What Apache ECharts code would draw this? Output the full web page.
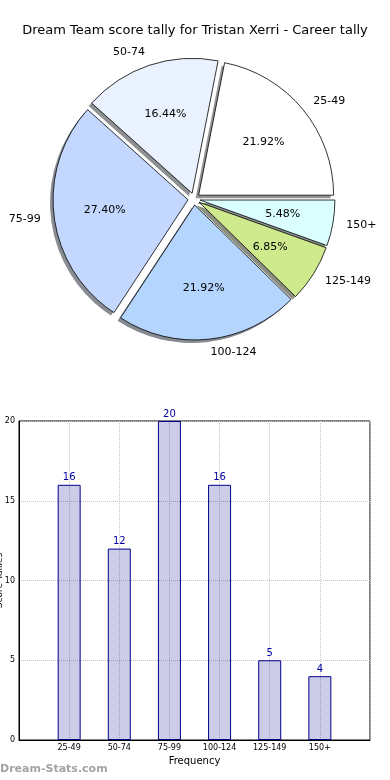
<!DOCTYPE html>
<html>
<head>
<meta charset="utf-8">
<script src="https://cdn.jsdelivr.net/npm/echarts@6/dist/echarts.min.js"></script>
<style>
html,body{margin:0;padding:0;background:#fff;}
#chart{width:390px;height:780px;}
</style>
</head>
<body>
<div id="chart"></div>
<script>
const titleText = 'Dream Team score tally for Tristan Xerri - Career tally';
const categories = ['25-49', '50-74', '75-99', '100-124', '125-149', '150+'];
const tallies = [16, 12, 20, 16, 5, 4];
const sliceColors = ['#ffffff', '#ebf2ff', '#c4d8ff', '#b4d5fe', '#cfea8c', '#dbffff'];
const yTicks = [0, 5, 10, 15, 20];
const xAxisName = 'Frequency';
const yAxisName = 'Score Tallies';
const watermark = 'Dream-Stats.com';

const total = tallies.reduce((a, b) => a + b, 0);
const R = 135;
const offset = 6;
const font = 'DejaVu Sans';
const CX = 194, CY = 199;

// shadow tint: darkened face colour blended half over white
function shadowOf(hex) {
  const n = parseInt(hex.slice(1), 16);
  const r = (n >> 16) & 255, g = (n >> 8) & 255, b = n & 255;
  const f = c => Math.round(c * 0.3 * 0.5 + 255 * 0.5 - 20);
  return 'rgb(' + f(r) + ',' + f(g) + ',' + f(b) + ')';
}

const pieData = categories.map((c, i) => ({
  name: c, value: tallies[i], selected: true,
  itemStyle: { color: sliceColors[i] }
}));
const shadowData = categories.map((c, i) => ({
  name: c, value: tallies[i], selected: true,
  itemStyle: { color: shadowOf(sliceColors[i]) }
}));
const labelData = categories.map((c, i) => ({
  name: c, value: tallies[i], selected: true
}));
const barData = tallies.map((v, i) => [i, v]);

const chart = echarts.init(document.getElementById('chart'), null, { renderer: 'canvas' });
chart.setOption({
  animation: false,
  textStyle: { fontFamily: font },
  title: [
    { text: titleText, left: 'center', top: 24, padding: 0,
      textStyle: { fontSize: 13, fontWeight: 'normal', color: '#000', fontFamily: font } },
    { text: watermark, left: 0, top: 764, padding: 0,
      textStyle: { fontSize: 11, fontWeight: 'bold', color: '#a3a3a3', fontFamily: font } }
  ],
  grid: { left: 19, right: 20, top: 421, bottom: 40, show: true, borderColor: '#000', borderWidth: 1,
    backgroundColor: 'transparent', containLabel: false, outerBoundsMode: 'none' },
  xAxis: {
    type: 'value', min: -1, max: categories.length, interval: 1,
    name: xAxisName, nameLocation: 'middle', nameGap: 16, nameMoveOverlap: false,
    nameTextStyle: { fontSize: 10, color: '#000', fontFamily: font },
    axisLine: { show: true, onZero: false, lineStyle: { color: '#000' } },
    axisTick: { show: false },
    axisLabel: { fontSize: 8, color: '#000', margin: 4, fontFamily: font,
      formatter: v => (categories[v] !== undefined ? categories[v] : '') },
    splitLine: { show: true, lineStyle: { color: '#c4c4c4', type: 'dotted', width: 1 } }
  },
  yAxis: {
    type: 'value', min: yTicks[0], max: yTicks[yTicks.length - 1], interval: yTicks[1] - yTicks[0],
    name: yAxisName, nameLocation: 'middle', nameGap: 15, nameRotate: 90, nameMoveOverlap: false,
    nameTextStyle: { fontSize: 9, color: '#000', fontFamily: font },
    axisLine: { show: true, onZero: false, lineStyle: { color: '#000' } },
    axisTick: { show: false },
    axisLabel: { fontSize: 8, color: '#000', margin: 4, fontFamily: font },
    splitLine: { show: true, lineStyle: { color: '#c4c4c4', type: 'dotted', width: 1 } }
  },
  series: [
    {
      type: 'pie', center: [CX - 3, CY + 3], radius: R,
      startAngle: 0, clockwise: false,
      selectedMode: 'multiple', selectedOffset: offset,
      silent: true, emphasis: { disabled: true },
      itemStyle: { borderWidth: 0 },
      label: { show: false }, labelLine: { show: false },
      data: shadowData
    },
    {
      type: 'pie', center: [CX, CY], radius: R,
      startAngle: 0, clockwise: false,
      selectedMode: 'multiple', selectedOffset: offset,
      avoidLabelOverlap: false,
      emphasis: { disabled: true },
      itemStyle: { borderColor: '#000', borderWidth: 0.8 },
      label: { show: true, position: 'outside', formatter: '{b}', fontSize: 11, color: '#000',
        fontFamily: font, distanceToLabelLine: 0, bleedMargin: 0, overflow: 'none' },
      labelLine: { show: false, length: R * 0.1, length2: 0 },
      data: pieData
    },
    {
      type: 'pie', center: [CX, CY], radius: R * 1.2,
      startAngle: 0, clockwise: false,
      selectedMode: 'multiple', selectedOffset: offset,
      avoidLabelOverlap: false, silent: true,
      emphasis: { disabled: true },
      itemStyle: { color: 'rgba(0,0,0,0)', borderWidth: 0 },
      label: { show: true, position: 'inside', fontSize: 11, color: '#000', fontFamily: font,
        formatter: p => (p.value / total * 100).toFixed(2) + '%' },
      labelLine: { show: false },
      data: labelData
    },
    {
      type: 'bar', data: barData, barWidth: 23,
      itemStyle: { color: 'rgba(0,0,128,0.2)', borderColor: '#00008b', borderWidth: 1 },
      label: { show: true, position: 'top', distance: 2, fontSize: 10, color: '#0000a0', fontFamily: font,
        formatter: p => p.value[1] },
      emphasis: { disabled: true }
    }
  ]
});
</script>
</body>
</html>
